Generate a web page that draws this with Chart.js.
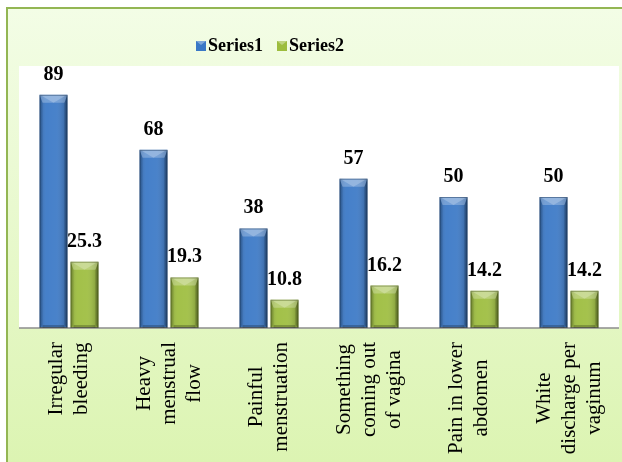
<!DOCTYPE html>
<html>
<head>
<meta charset="utf-8">
<script src="https://cdn.jsdelivr.net/npm/chart.js@4/dist/chart.umd.min.js"></script>
<style>
  html, body { margin: 0; padding: 0; background: #ffffff; }
  canvas { display: block; }
</style>
</head>
<body>
<canvas id="chart" width="622" height="462"></canvas>
<script>
const categories = [
  ["Irregular", "bleeding"],
  ["Heavy", "menstrual", "flow"],
  ["Painful", "menstruation"],
  ["Something", "coming out", "of vagina"],
  ["Pain in lower", "abdomen"],
  ["White", "discharge per", "vaginum"]
];
const series1 = [89, 68, 38, 57, 50, 50];
const series2 = [25.3, 19.3, 10.8, 16.2, 14.2, 14.2];
const seriesNames = ["Series1", "Series2"];

const SERIF = '"Liberation Serif", "Times New Roman", serif';

// frame, plot area, baseline
const backdrop = {
  id: "backdrop",
  beforeDraw(chart) {
    const ctx = chart.ctx;
    const a = chart.chartArea;
    ctx.save();
    const g = ctx.createLinearGradient(0, 8, 0, chart.height);
    g.addColorStop(0, "#f3fde6");
    g.addColorStop(1, "#dcf4b2");
    ctx.fillStyle = g;
    ctx.fillRect(7, 8, chart.width, chart.height);
    ctx.strokeStyle = "#93b653";
    ctx.lineWidth = 2;
    ctx.beginPath();
    ctx.moveTo(7, chart.height + 2);
    ctx.lineTo(7, 8);
    ctx.lineTo(chart.width + 2, 8);
    ctx.stroke();
    ctx.fillStyle = "#ffffff";
    ctx.fillRect(a.left, a.top, a.right - a.left, a.bottom - a.top);
    ctx.restore();
  },
  afterDatasetsDraw(chart) {
    const ctx = chart.ctx;
    const a = chart.chartArea;
    const y0 = chart.scales.y.getPixelForValue(0);
    ctx.save();
    ctx.strokeStyle = "#8c8c8c";
    ctx.lineWidth = 1.5;
    ctx.beginPath();
    ctx.moveTo(a.left, y0);
    ctx.lineTo(a.right, y0);
    ctx.stroke();
    ctx.restore();
  }
};

// bevel look on each bar
const bevel = {
  id: "bevel",
  afterDatasetsDraw(chart) {
    const ctx = chart.ctx;
    chart.data.datasets.forEach((ds, di) => {
      chart.getDatasetMeta(di).data.forEach(bar => {
        const l = bar.x - bar.width / 2, r = bar.x + bar.width / 2;
        const t = bar.y, b = bar.base;
        const k = 8;
        ctx.save();
        const hg = ctx.createLinearGradient(l, 0, r, 0);
        hg.addColorStop(0, "rgba(0,0,0,0.2)");
        hg.addColorStop(0.25, "rgba(255,255,255,0.06)");
        hg.addColorStop(0.6, "rgba(255,255,255,0.08)");
        hg.addColorStop(1, "rgba(0,0,0,0.25)");
        ctx.fillStyle = hg;
        ctx.fillRect(l, t, r - l, b - t);
        // top bevel: light band with brighter triangle
        ctx.fillStyle = "rgba(255,255,255,0.25)";
        ctx.beginPath();
        ctx.moveTo(l, t); ctx.lineTo(r, t); ctx.lineTo(r - 3, t + k); ctx.lineTo(l + 3, t + k);
        ctx.closePath(); ctx.fill();
        ctx.fillStyle = "rgba(255,255,255,0.22)";
        ctx.beginPath();
        ctx.moveTo(l + 2, t + 1); ctx.lineTo(r - 2, t + 1); ctx.lineTo(bar.x, t + k);
        ctx.closePath(); ctx.fill();
        // left / right sides
        ctx.fillStyle = "rgba(0,0,0,0.10)";
        ctx.beginPath();
        ctx.moveTo(l, t); ctx.lineTo(l + 3, t + k); ctx.lineTo(l + 3, b - 3); ctx.lineTo(l, b);
        ctx.closePath(); ctx.fill();
        ctx.fillStyle = "rgba(0,0,0,0.2)";
        ctx.beginPath();
        ctx.moveTo(r, t); ctx.lineTo(r - 3, t + k); ctx.lineTo(r - 3, b - 3); ctx.lineTo(r, b);
        ctx.closePath(); ctx.fill();
        // bottom
        ctx.fillStyle = "rgba(0,0,0,0.22)";
        ctx.fillRect(l + 3, b - 3, r - l - 6, 3);
        ctx.strokeStyle = "rgba(0,0,0,0.25)";
        ctx.lineWidth = 1;
        ctx.strokeRect(l + 0.5, t + 0.5, r - l - 1, b - t - 1);
        ctx.restore();
      });
    });
  }
};

// value labels, category labels and legend
const texts = {
  id: "texts",
  afterDraw(chart) {
    const ctx = chart.ctx;
    ctx.save();
    ctx.fillStyle = "#000000";
    ctx.font = "bold 20px " + SERIF;
    ctx.textAlign = "center";
    ctx.textBaseline = "alphabetic";
    chart.data.datasets.forEach((ds, di) => {
      chart.getDatasetMeta(di).data.forEach((bar, i) => {
        ctx.fillText(String(ds.data[i]), bar.x, bar.y - 15);
      });
    });

    // rotated category labels
    const xs = chart.scales.x;
    ctx.font = "21px " + SERIF;
    ctx.textBaseline = "middle";
    const lineH = 25;
    const top = 342;
    categories.forEach((lines, i) => {
      const cx = xs.getPixelForValue(i);
      const maxW = Math.max(...lines.map(s => ctx.measureText(s).width));
      ctx.save();
      ctx.translate(cx, top + maxW / 2);
      ctx.rotate(-Math.PI / 2);
      lines.forEach((s, j) => {
        ctx.fillText(s, 0, (j - (lines.length - 1) / 2) * lineH);
      });
      ctx.restore();
    });

    // legend
    ctx.font = "bold 18px " + SERIF;
    ctx.textAlign = "left";
    ctx.textBaseline = "alphabetic";
    let lx = 196;
    chart.data.datasets.forEach((ds, di) => {
      ctx.fillStyle = ds.backgroundColor;
      ctx.fillRect(lx, 41, 10, 10);
      ctx.fillStyle = "rgba(255,255,255,0.35)";
      ctx.beginPath();
      ctx.moveTo(lx, 41); ctx.lineTo(lx + 10, 41); ctx.lineTo(lx + 5, 45);
      ctx.closePath(); ctx.fill();
      ctx.fillStyle = "#000000";
      ctx.fillText(seriesNames[di], lx + 12, 51);
      lx += 81;
    });
    ctx.restore();
  }
};

new Chart(document.getElementById("chart").getContext("2d"), {
  type: "bar",
  data: {
    labels: categories,
    datasets: [
      { label: seriesNames[0], data: series1, backgroundColor: "#3a78c6",
        categoryPercentage: 0.62, barPercentage: 0.9 },
      { label: seriesNames[1], data: series2, backgroundColor: "#9dbd3e",
        categoryPercentage: 0.62, barPercentage: 0.9 }
    ]
  },
  options: {
    responsive: false,
    animation: false,
    devicePixelRatio: 1,
    layout: { padding: { left: 19, right: 3, top: 66, bottom: 134 } },
    plugins: {
      legend: { display: false },
      tooltip: { enabled: false }
    },
    scales: {
      x: { display: false },
      y: { display: false, min: 0, max: 100 }
    }
  },
  plugins: [backdrop, bevel, texts]
});
</script>
</body>
</html>
